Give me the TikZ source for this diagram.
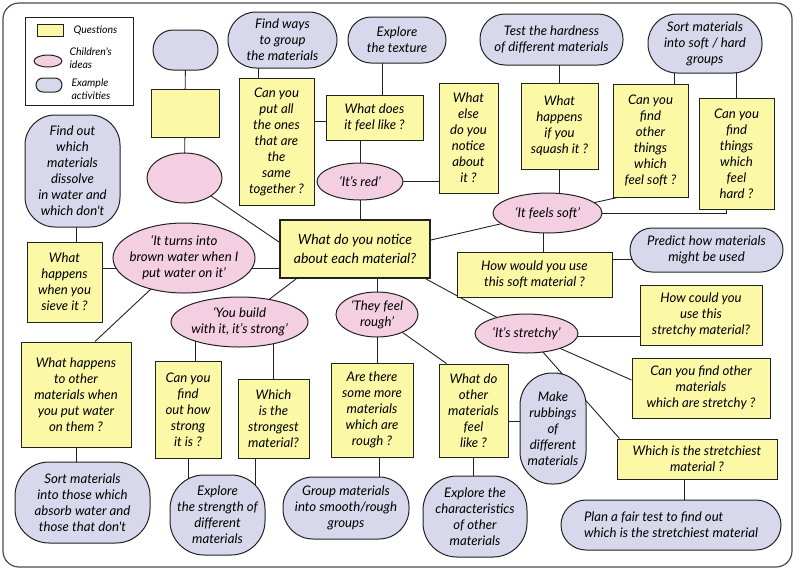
\documentclass[tikz,border=0pt]{standalone}
\usepackage{fontspec}
\usepackage{tikz}
\usetikzlibrary{shapes.geometric, backgrounds}
\newfontfamily\handfont{Lato}
\newcommand\handtext{\handfont\itshape\fontsize{13.2}{16}\selectfont}
\newcommand\legendtext{\handfont\itshape\fontsize{10.5}{13}\selectfont}
\definecolor{qyellow}{HTML}{FBF8A6}
\definecolor{ideapink}{HTML}{F4CFE1}
\definecolor{actblue}{HTML}{D8D8EC}
\definecolor{inkline}{HTML}{222222}

\begin{document}
\begin{tikzpicture}[
        x=1pt, y=-1pt,
        wh/.style 2 args={minimum width=#1pt, minimum height=#2pt},
        question/.style={draw=inkline, fill=qyellow, line width=1pt, align=center,
                         inner sep=2pt, font=\handtext},
        idea/.style={ellipse, draw=inkline, fill=ideapink, line width=1pt, align=center,
                     inner xsep=-6pt, inner ysep=0pt, font=\handtext},
        activity/.style={draw=inkline, fill=actblue, line width=1pt, align=center,
                         inner sep=2pt, rounded corners=#1, font=\handtext},
        activity/.default=20pt,
        legtext/.style={anchor=west, align=left, font=\legendtext},
        link/.style={draw=inkline, line width=0.9pt}
    ]
      \useasboundingbox (0,0) rectangle (800,574);
      \draw[black!70, line width=1.2pt, rounded corners=16pt] (3,3) rectangle (792,567);

      % --- Legend ---
      \node[draw=inkline, line width=0.8pt, wh={108}{88}] (legend) at (79,61) {};
      \node[question, wh={26}{12}, inner sep=0pt] (legq) at (50,30) {};
      \node[legtext] (legqtxt) at (70,30) {Questions};
      \node[idea, wh={28}{12}] (legi) at (48,61) {};
      \node[legtext] (legitxt) at (66,58.5) {Children's\\ideas};
      \node[activity=7pt, wh={26}{14}, inner sep=0pt] (lega) at (49,85) {};
      \node[legtext] (legatxt) at (68,89.5) {Example\\activities};

      % --- Empty template ---
      \node[activity, wh={65}{40}] (tplact) at (185.5,50) {};
      \node[question, wh={68}{48}] (tplq) at (185,113) {};
      \node[idea, wh={75}{50}] (tplidea) at (184.5,178) {};

      % --- Centre question ---
      \node[question, line width=1.8pt, wh={150}{58}, font=\handfont\itshape\fontsize{14}{19}\selectfont]
        (centre) at (355,249) {What do you notice\\about each material?};

      % --- Top left: 'It's red' ---
      \node[idea, wh={86}{37}] (red) at (360,181.5) {‘It’s red’};
      \node[question, wh={97}{45}] (feellike) at (374.5,117.5) {What does\\it feel like ?};
      \node[activity=23pt, wh={98}{46}] (texture) at (397,40) {Explore\\the texture};
      \node[question, wh={75}{127}] (sametogether) at (276.5,141.5) {Can you\\put all\\the ones\\that are\\the\\same\\together ?};
      \node[activity=28pt, wh={109}{56}] (groupways) at (282.5,40) {Find ways\\to group\\the materials};
      \node[question, wh={59}{110}] (elsenotice) at (468.5,138) {What\\else\\do you\\notice\\about\\it ?};

      % --- Top right: 'It feels soft' ---
      \node[idea, wh={109}{40}] (soft) at (547.5,213) {‘It feels soft’};
      \node[question, wh={77}{86}] (squash) at (559.5,126) {What\\happens\\if you\\squash it ?};
      \node[activity=25pt, wh={143}{51}] (testhard) at (551.5,39.5) {Test the hardness\\of different materials};
      \node[question, wh={75}{113}] (feelsoft) at (650.5,140.5) {Can you\\find\\other\\things\\which\\feel soft ?};
      \node[question, wh={75}{111}] (feelhard) at (736.5,153.5) {Can you\\find\\things\\which\\feel\\hard ?};
      \node[activity=29pt, wh={114}{59}] (sortsoft) at (705,43.5) {Sort materials\\into soft / hard\\groups};
      \node[question, wh={155}{45}] (softuse) at (534.5,274.5) {How would you use\\this soft material ?};
      \node[activity=22pt, wh={153}{44}] (predict) at (706.5,250) {Predict how materials\\might be used};

      % --- Right: 'It's stretchy' ---
      \node[idea, wh={103}{39}] (stretchy) at (526.5,333.5) {‘It’s stretchy’};
      \node[question, wh={122}{60}] (usestretchy) at (701,315) {How could you\\use this\\stretchy material?};
      \node[question, wh={138}{60}] (findstretchy) at (701,388) {Can you find other\\materials\\which are stretchy ?};
      \node[question, wh={160}{40}] (stretchiest) at (697,459) {Which is the stretchiest\\material ?};
      \node[activity=25pt, wh={220}{50}, align=left] (fairtest) at (671,525) {Plan a fair test to find out\\which is the stretchiest material};

      % --- Bottom middle: 'They feel rough' ---
      \node[idea, wh={82}{45}] (rough) at (377,314.5) {‘They feel\\rough’};
      \node[question, wh={82}{94}] (morerough) at (372,410) {Are there\\some more\\materials\\which are\\rough ?};
      \node[activity=30pt, wh={126}{62}] (smooth) at (346,508) {Group materials\\into smooth/rough\\groups};
      \node[question, wh={69}{93}] (otherfeel) at (473.5,410.5) {What do\\other\\materials\\feel\\like ?};
      \node[activity=34pt, wh={104}{81}] (characteristics) at (475,516.5) {Explore the\\characteristics\\of other\\materials};
      \node[activity=32pt, wh={66}{111}] (rubbings) at (553,428.5) {Make\\rubbings\\of\\different\\materials};

      % --- Bottom left: 'You build with it' ---
      \node[idea, wh={137}{50}] (build) at (239.5,322) {‘You build\\with it, it’s strong’};
      \node[question, wh={66}{97}] (howstrong) at (188,409.5) {Can you\\find\\out how\\strong\\it is ?};
      \node[question, wh={71}{79}] (strongest) at (273.5,418.5) {Which\\is the\\strongest\\material?};
      \node[activity=34pt, wh={95}{80}] (strength) at (217.5,515) {Explore\\the strength of\\different\\materials};

      % --- Left: brown water ---
      \node[idea, wh={142}{70}] (brown) at (184,258) {‘It turns into\\brown water when I\\put water on it’};
      \node[activity=30pt, wh={95}{112}] (dissolve) at (72.5,171) {Find out\\which\\materials\\dissolve\\in water and\\which don't};
      \node[question, wh={75}{80}] (sieve) at (64.5,282) {What\\happens\\when you\\sieve it ?};
      \node[question, wh={110}{105}] (otherwater) at (76,394.5) {What happens\\to other\\materials when\\you put water\\on them ?};
      \node[activity=34pt, wh={135}{81}] (absorb) at (82.5,502.5) {Sort materials\\into those which\\absorb water and\\those that don't};

      % --- Connectors ---
      \begin{scope}[on background layer]
        \draw[link] (tplact.center) -- (tplq.center);
        \draw[link] (tplq.center) -- (tplidea.center);
        \draw[link] (tplidea.center) -- ([yshift=7pt]centre.west);

        \draw[link] (red.center) -- (red.center |- centre.north);
        \draw[link] (red.center) -- (red.center |- feellike.south);
        \draw[link] (red.center) -- (red.center -| elsenotice.west);
        \draw[link] ([xshift=8pt]feellike.north) -- ([xshift=8pt]feellike.north |- texture.center);
        \draw[link] ([yshift=-4pt]feellike.west) -- ([yshift=-4pt]feellike.west -| sametogether.east);
        \draw[link] ([xshift=-18pt]sametogether.north) -- ([xshift=-18pt]sametogether.north |- groupways.center);

        \draw[link] ([yshift=9pt]centre.east) -- (soft.center);
        \draw[link] (squash.south) -- (squash.south |- soft.center);
        \draw[link] (squash.north) -- (squash.north |- testhard.center);
        \draw[link] (soft.center) -- ([xshift=5pt]feelsoft.south west);
        \draw[link] (soft.center) -| ([xshift=-10pt]feelhard.south);
        \draw[link] ([xshift=24pt]feelsoft.north) -- ([xshift=24pt]feelsoft.north |- sortsoft.center);
        \draw[link] (feelhard.north) -- (feelhard.north |- sortsoft.center);
        \draw[link] ([xshift=-4pt]soft.center) -- ([xshift=-4pt]soft.center |- softuse.north);
        \draw[link] ([yshift=-9pt]predict.center) -- ([yshift=-9pt]predict.center -| softuse.east);

        \draw[link] ([xshift=-5pt]centre.south east) -- (stretchy.center);
        \draw[link] ([yshift=-3pt]stretchy.center) -- ([yshift=-3pt]stretchy.center -| usestretchy.west);
        \draw[link] (stretchy.center) -- ([yshift=8pt]findstretchy.west);
        \draw[link] (stretchy.center) -- ([xshift=3pt]stretchiest.north west);
        \draw[link] ([xshift=-13pt]stretchiest.south) -- ([xshift=-13pt]stretchiest.south |- fairtest.center);

        \draw[link] (rough.center) -- (rough.center |- centre.south);
        \draw[link] (rough.center) -- (rough.center |- morerough.north);
        \draw[link] (rough.center) -- ([xshift=8pt]otherfeel.north west);
        \draw[link] ([xshift=7pt]morerough.south) -- ([xshift=7pt]morerough.south |- smooth.center);
        \draw[link] (otherfeel.south) -- (otherfeel.south |- characteristics.center);
        \draw[link] ([yshift=-11pt]otherfeel.east) -- ([yshift=-11pt]otherfeel.east -| rubbings.center);

        \draw[link] ([xshift=17pt]centre.south west) -- (build.center);
        \draw[link] ([xshift=7pt]howstrong.north) -- ([xshift=7pt]howstrong.north |- build.center);
        \draw[link] (strongest.north) -- (strongest.north |- build.center);
        \draw[link] (howstrong.south) -- (howstrong.south |- strength.center);
        \draw[link] ([xshift=-18pt]strongest.south) -- ([xshift=-18pt]strongest.south |- strength.center);

        \draw[link] ([yshift=-19pt]centre.west) -- ([yshift=-19pt]centre.west -| brown.center);
        \draw[link] ([yshift=14pt]sieve.east) -- ([yshift=14pt]sieve.east -| brown.center);
        \draw[link] ([xshift=12pt]sieve.north) -- ([xshift=12pt]sieve.north |- dissolve.center);
        \draw[link] (brown.center) -- ([xshift=19pt]otherwater.north);
        \draw[link] (otherwater.south) -- (otherwater.south |- absorb.center);
      \end{scope}
    \end{tikzpicture}
\end{document}
